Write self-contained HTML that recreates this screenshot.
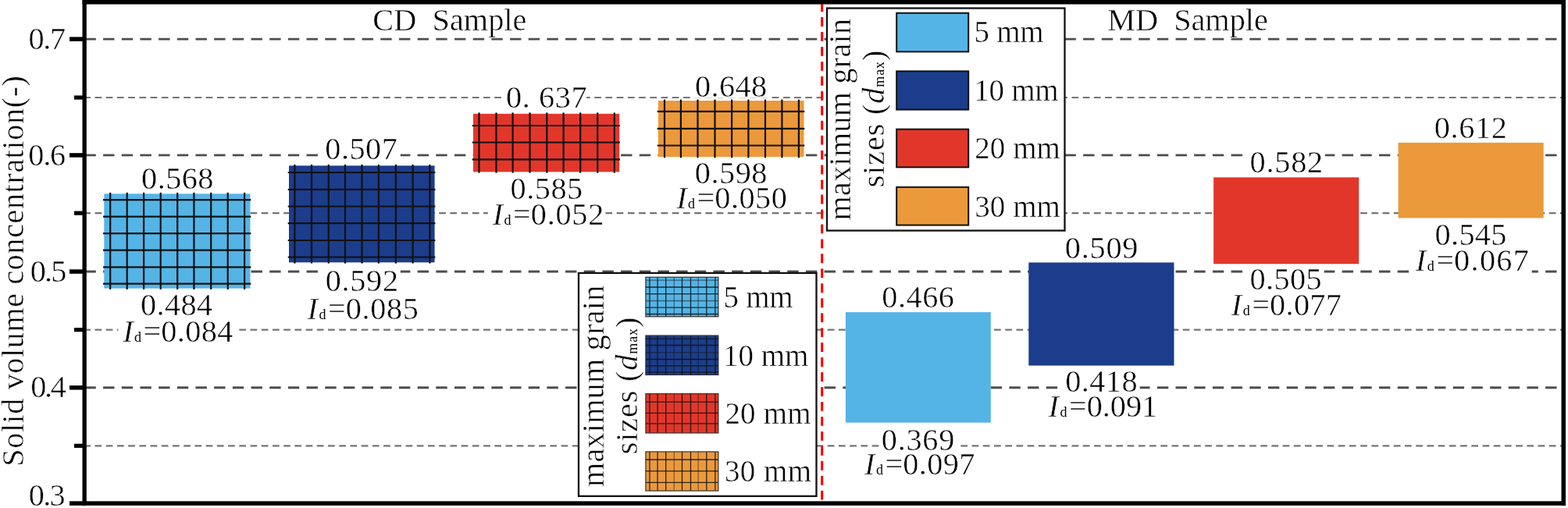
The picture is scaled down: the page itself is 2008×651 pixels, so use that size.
<!DOCTYPE html>
<html><head><meta charset="utf-8"><title>Solid volume concentration chart</title>
<style>
html,body{margin:0;padding:0;background:#fff;}
body{width:2008px;height:651px;overflow:hidden;}
svg{display:block;}
</style></head><body>
<svg width="2008" height="651" viewBox="0 0 2008 651">
<rect x="0" y="0" width="2008" height="651" fill="#fff"/>
<g fill="none">
<line x1="108.4" y1="50.1" x2="2000" y2="50.1" stroke="#4d4d4d" stroke-width="2.8" stroke-dasharray="14.4 9.28"/>
<line x1="108.4" y1="198.9" x2="2000" y2="198.9" stroke="#4d4d4d" stroke-width="2.8" stroke-dasharray="14.4 9.28"/>
<line x1="108.4" y1="348.0" x2="2000" y2="348.0" stroke="#4d4d4d" stroke-width="2.8" stroke-dasharray="14.4 9.28"/>
<line x1="108.4" y1="496.75" x2="2000" y2="496.75" stroke="#4d4d4d" stroke-width="2.8" stroke-dasharray="14.4 9.28"/>
<line x1="107.3" y1="125.0" x2="2000" y2="125.0" stroke="#747474" stroke-width="2.2" stroke-dasharray="8.7 5.516"/>
<line x1="107.3" y1="273.1" x2="2000" y2="273.1" stroke="#747474" stroke-width="2.2" stroke-dasharray="8.7 5.516"/>
<line x1="107.3" y1="422.6" x2="2000" y2="422.6" stroke="#747474" stroke-width="2.2" stroke-dasharray="8.7 5.516"/>
<line x1="107.3" y1="571.3" x2="2000" y2="571.3" stroke="#747474" stroke-width="2.2" stroke-dasharray="8.7 5.516"/>
</g>
<line x1="1052.7" y1="3.04" x2="1052.7" y2="642" stroke="#ff0000" stroke-width="3.1" stroke-dasharray="11.9 7.06"/>
<rect x="133.3" y="248.3" width="187.2" height="121.3" fill="#55b4e6"/>
<g stroke="#111" stroke-width="2.2">
<line x1="141.2" y1="246.8" x2="141.2" y2="370.9"/>
<line x1="162.7" y1="246.8" x2="162.7" y2="370.9"/>
<line x1="184.1" y1="246.8" x2="184.1" y2="370.9"/>
<line x1="205.7" y1="246.8" x2="205.7" y2="370.9"/>
<line x1="227.2" y1="246.8" x2="227.2" y2="370.9"/>
<line x1="248.4" y1="246.8" x2="248.4" y2="370.9"/>
<line x1="270.2" y1="246.8" x2="270.2" y2="370.9"/>
<line x1="291.7" y1="246.8" x2="291.7" y2="370.9"/>
<line x1="313.1" y1="246.8" x2="313.1" y2="370.9"/>
<line x1="132" y1="256.1" x2="321.3" y2="256.1"/>
<line x1="132" y1="277.7" x2="321.3" y2="277.7"/>
<line x1="132" y1="299.2" x2="321.3" y2="299.2"/>
<line x1="132" y1="320.7" x2="321.3" y2="320.7"/>
<line x1="132" y1="342.3" x2="321.3" y2="342.3"/>
<line x1="132" y1="363.7" x2="321.3" y2="363.7"/>
</g>
<rect x="370.0" y="212.3" width="186.6" height="124" fill="#1b3d8c"/>
<g stroke="#111" stroke-width="2.2">
<line x1="377.4" y1="210.8" x2="377.4" y2="337.6"/>
<line x1="399.0" y1="210.8" x2="399.0" y2="337.6"/>
<line x1="420.8" y1="210.8" x2="420.8" y2="337.6"/>
<line x1="442.0" y1="210.8" x2="442.0" y2="337.6"/>
<line x1="463.5" y1="210.8" x2="463.5" y2="337.6"/>
<line x1="484.9" y1="210.8" x2="484.9" y2="337.6"/>
<line x1="506.9" y1="210.8" x2="506.9" y2="337.6"/>
<line x1="528.6" y1="210.8" x2="528.6" y2="337.6"/>
<line x1="550.4" y1="210.8" x2="550.4" y2="337.6"/>
<line x1="368.7" y1="221.0" x2="557.4" y2="221.0"/>
<line x1="368.7" y1="242.9" x2="557.4" y2="242.9"/>
<line x1="368.7" y1="264.5" x2="557.4" y2="264.5"/>
<line x1="368.7" y1="286.2" x2="557.4" y2="286.2"/>
<line x1="368.7" y1="308.0" x2="557.4" y2="308.0"/>
<line x1="368.7" y1="329.5" x2="557.4" y2="329.5"/>
</g>
<rect x="606.0" y="145.8" width="187.2" height="74.5" fill="#e3362a"/>
<g stroke="#111" stroke-width="2.2">
<line x1="613.5" y1="144.3" x2="613.5" y2="221.6"/>
<line x1="635.5" y1="144.3" x2="635.5" y2="221.6"/>
<line x1="656.6" y1="144.3" x2="656.6" y2="221.6"/>
<line x1="678.5" y1="144.3" x2="678.5" y2="221.6"/>
<line x1="700.3" y1="144.3" x2="700.3" y2="221.6"/>
<line x1="721.6" y1="144.3" x2="721.6" y2="221.6"/>
<line x1="743.2" y1="144.3" x2="743.2" y2="221.6"/>
<line x1="765.2" y1="144.3" x2="765.2" y2="221.6"/>
<line x1="786.8" y1="144.3" x2="786.8" y2="221.6"/>
<line x1="604.7" y1="161.0" x2="794" y2="161.0"/>
<line x1="604.7" y1="182.5" x2="794" y2="182.5"/>
<line x1="604.7" y1="204.4" x2="794" y2="204.4"/>
</g>
<rect x="842.9" y="129.0" width="186.6" height="72" fill="#ec993c"/>
<g stroke="#111" stroke-width="2.2">
<line x1="851.0" y1="127.5" x2="851.0" y2="202.3"/>
<line x1="871.9" y1="127.5" x2="871.9" y2="202.3"/>
<line x1="893.5" y1="127.5" x2="893.5" y2="202.3"/>
<line x1="915.5" y1="127.5" x2="915.5" y2="202.3"/>
<line x1="937.1" y1="127.5" x2="937.1" y2="202.3"/>
<line x1="958.4" y1="127.5" x2="958.4" y2="202.3"/>
<line x1="980.0" y1="127.5" x2="980.0" y2="202.3"/>
<line x1="1001.4" y1="127.5" x2="1001.4" y2="202.3"/>
<line x1="1022.9" y1="127.5" x2="1022.9" y2="202.3"/>
<line x1="841.6" y1="142.9" x2="1030.3" y2="142.9"/>
<line x1="841.6" y1="164.8" x2="1030.3" y2="164.8"/>
<line x1="841.6" y1="186.5" x2="1030.3" y2="186.5"/>
</g>
<rect x="1082.9" y="400.1" width="185.9" height="141.5" fill="#55b4e6"/>
<rect x="1317.3" y="336.4" width="186.2" height="132.1" fill="#1b3d8c"/>
<rect x="1554.1" y="227.3" width="186.1" height="110.9" fill="#e3362a"/>
<rect x="1790.6" y="182.8" width="186.1" height="96.6" fill="#ec993c"/>
<g fill="#fff">
<rect x="177.3" y="212.9" width="99.1" height="31.3"/>
<rect x="176.2" y="374.4" width="100.1" height="31.8"/>
<rect x="413.3" y="175.8" width="99.5" height="31.2"/>
<rect x="413.7" y="344" width="99.1" height="31.3"/>
<rect x="644.3" y="108.4" width="106.6" height="31.5"/>
<rect x="650.7" y="225.5" width="98.5" height="31.4"/>
<rect x="886.7" y="94.6" width="99.4" height="31.1"/>
<rect x="886.7" y="206.2" width="99" height="31.5"/>
<rect x="1125.7" y="364.6" width="100" height="32"/>
<rect x="1125.8" y="547.7" width="99.8" height="31.2"/>
<rect x="1360.5" y="301" width="100" height="31.7"/>
<rect x="1360.9" y="472.8" width="98.8" height="31.3"/>
<rect x="1596.9" y="192.2" width="100" height="31.5"/>
<rect x="1597.1" y="342" width="98.6" height="31.6"/>
<rect x="1833.5" y="147.4" width="99.6" height="31.7"/>
<rect x="1834.1" y="284.6" width="98.7" height="31.4"/>
<rect x="151.5" y="408.5" width="150.4" height="32.1"/>
<rect x="387.9" y="379.6" width="150.1" height="32"/>
<rect x="624.9" y="258.8" width="149.8" height="32.1"/>
<rect x="860.9" y="238.1" width="150.3" height="32.4"/>
<rect x="1101.6" y="579.5" width="149.6" height="32"/>
<rect x="1336.8" y="504.8" width="147.3" height="32.4"/>
<rect x="1571.3" y="374.6" width="149.9" height="31.7"/>
<rect x="1807.3" y="316.3" width="154.4" height="33.7"/>
</g>
<rect x="741.0" y="349.9" width="304.5" height="285.9" fill="#fff" stroke="#111" stroke-width="2.3"/>
<rect x="826.9" y="355.20000000000005" width="93" height="50.6" fill="#55b4e6" stroke="#333" stroke-width="1.2"/>
<rect x="826.9" y="430.0" width="93" height="50.4" fill="#1b3d8c" stroke="#333" stroke-width="1.2"/>
<rect x="826.9" y="504.5" width="93" height="50.4" fill="#e3362a" stroke="#333" stroke-width="1.2"/>
<rect x="826.9" y="578.9" width="93" height="50.1" fill="#ec993c" stroke="#333" stroke-width="1.2"/>
<g stroke="#111" stroke-width="1.3">
<line x1="832.0" y1="355.6" x2="832.0" y2="405.4" stroke-opacity="0.85"/>
<line x1="842.1" y1="355.6" x2="842.1" y2="405.4" stroke-opacity="0.85"/>
<line x1="852.7" y1="355.6" x2="852.7" y2="405.4" stroke-opacity="0.85"/>
<line x1="863.3" y1="355.6" x2="863.3" y2="405.4" stroke-opacity="0.45"/>
<line x1="873.5" y1="355.6" x2="873.5" y2="405.4" stroke-opacity="0.85"/>
<line x1="884.5" y1="355.6" x2="884.5" y2="405.4" stroke-opacity="0.85"/>
<line x1="894.2" y1="355.6" x2="894.2" y2="405.4" stroke-opacity="0.45"/>
<line x1="904.8" y1="355.6" x2="904.8" y2="405.4" stroke-opacity="0.85"/>
<line x1="915.9" y1="355.6" x2="915.9" y2="405.4" stroke-opacity="0.85"/>
<line x1="827" y1="359.2" x2="919.8" y2="359.2" stroke-opacity="0.5"/>
<line x1="827" y1="368.0" x2="919.8" y2="368.0" stroke-opacity="0.85"/>
<line x1="827" y1="376.7" x2="919.8" y2="376.7" stroke-opacity="0.85"/>
<line x1="827" y1="385.5" x2="919.8" y2="385.5" stroke-opacity="0.5"/>
<line x1="827" y1="394.2" x2="919.8" y2="394.2" stroke-opacity="0.85"/>
<line x1="827" y1="402.5" x2="919.8" y2="402.5" stroke-opacity="0.85"/>
</g>
<g stroke="#111" stroke-width="1.3">
<line x1="832.0" y1="430.4" x2="832.0" y2="480.0" stroke-opacity="0.85"/>
<line x1="842.1" y1="430.4" x2="842.1" y2="480.0" stroke-opacity="0.85"/>
<line x1="852.7" y1="430.4" x2="852.7" y2="480.0" stroke-opacity="0.85"/>
<line x1="863.3" y1="430.4" x2="863.3" y2="480.0" stroke-opacity="0.45"/>
<line x1="873.5" y1="430.4" x2="873.5" y2="480.0" stroke-opacity="0.85"/>
<line x1="884.5" y1="430.4" x2="884.5" y2="480.0" stroke-opacity="0.85"/>
<line x1="894.2" y1="430.4" x2="894.2" y2="480.0" stroke-opacity="0.45"/>
<line x1="904.8" y1="430.4" x2="904.8" y2="480.0" stroke-opacity="0.85"/>
<line x1="915.9" y1="430.4" x2="915.9" y2="480.0" stroke-opacity="0.85"/>
<line x1="827" y1="434.2" x2="919.8" y2="434.2" stroke-opacity="0.85"/>
<line x1="827" y1="442.5" x2="919.8" y2="442.5" stroke-opacity="0.85"/>
<line x1="827" y1="451.7" x2="919.8" y2="451.7" stroke-opacity="0.5"/>
<line x1="827" y1="460.5" x2="919.8" y2="460.5" stroke-opacity="0.85"/>
<line x1="827" y1="468.8" x2="919.8" y2="468.8" stroke-opacity="0.85"/>
<line x1="827" y1="477.1" x2="919.8" y2="477.1" stroke-opacity="0.85"/>
</g>
<g stroke="#111" stroke-width="1.3">
<line x1="832.0" y1="504.9" x2="832.0" y2="554.5" stroke-opacity="0.85"/>
<line x1="842.1" y1="504.9" x2="842.1" y2="554.5" stroke-opacity="0.85"/>
<line x1="852.7" y1="504.9" x2="852.7" y2="554.5" stroke-opacity="0.85"/>
<line x1="863.3" y1="504.9" x2="863.3" y2="554.5" stroke-opacity="0.45"/>
<line x1="873.5" y1="504.9" x2="873.5" y2="554.5" stroke-opacity="0.85"/>
<line x1="884.5" y1="504.9" x2="884.5" y2="554.5" stroke-opacity="0.85"/>
<line x1="894.2" y1="504.9" x2="894.2" y2="554.5" stroke-opacity="0.45"/>
<line x1="904.8" y1="504.9" x2="904.8" y2="554.5" stroke-opacity="0.85"/>
<line x1="915.9" y1="504.9" x2="915.9" y2="554.5" stroke-opacity="0.85"/>
<line x1="827" y1="515.2" x2="919.8" y2="515.2" stroke-opacity="0.85"/>
<line x1="827" y1="529.3" x2="919.8" y2="529.3" stroke-opacity="0.85"/>
<line x1="827" y1="542.9" x2="919.8" y2="542.9" stroke-opacity="0.85"/>
</g>
<g stroke="#111" stroke-width="1.3">
<line x1="832.0" y1="579.3" x2="832.0" y2="628.6" stroke-opacity="0.85"/>
<line x1="842.1" y1="579.3" x2="842.1" y2="628.6" stroke-opacity="0.85"/>
<line x1="852.7" y1="579.3" x2="852.7" y2="628.6" stroke-opacity="0.85"/>
<line x1="863.3" y1="579.3" x2="863.3" y2="628.6" stroke-opacity="0.45"/>
<line x1="873.5" y1="579.3" x2="873.5" y2="628.6" stroke-opacity="0.85"/>
<line x1="884.5" y1="579.3" x2="884.5" y2="628.6" stroke-opacity="0.85"/>
<line x1="894.2" y1="579.3" x2="894.2" y2="628.6" stroke-opacity="0.45"/>
<line x1="904.8" y1="579.3" x2="904.8" y2="628.6" stroke-opacity="0.85"/>
<line x1="915.9" y1="579.3" x2="915.9" y2="628.6" stroke-opacity="0.85"/>
<line x1="827" y1="589.0" x2="919.8" y2="589.0" stroke-opacity="0.85"/>
<line x1="827" y1="603.6" x2="919.8" y2="603.6" stroke-opacity="0.85"/>
<line x1="827" y1="618.4" x2="919.8" y2="618.4" stroke-opacity="0.85"/>
</g>
<rect x="1059.0" y="10.5" width="304.5" height="285" fill="#fff" stroke="#111" stroke-width="2.3"/>
<rect x="1148.2" y="16.7" width="92" height="49.6" fill="#55b4e6" stroke="#111" stroke-width="2"/>
<rect x="1148.2" y="91.3" width="92" height="49.2" fill="#1b3d8c" stroke="#111" stroke-width="2"/>
<rect x="1148.2" y="165.6" width="92" height="48.7" fill="#e3362a" stroke="#111" stroke-width="2"/>
<rect x="1148.2" y="239.8" width="92" height="48.7" fill="#ec993c" stroke="#111" stroke-width="2"/>
<g font-family="'Liberation Serif', 'Times New Roman', serif" font-size="40.3" fill="#000" stroke="#fff" stroke-width="0.5">
<text x="227.45" y="242.4" text-anchor="middle" letter-spacing="0.4" xml:space="preserve">0.568</text>
<text x="226.25" y="403.9" text-anchor="middle" letter-spacing="0.4" xml:space="preserve">0.484</text>
<text x="462.85" y="204.3" text-anchor="middle" letter-spacing="0.5" xml:space="preserve">0.507</text>
<text x="463.75" y="373.1" text-anchor="middle" letter-spacing="0.65" xml:space="preserve">0.592</text>
<text x="700.1" y="137.7" text-anchor="middle" letter-spacing="0.6" xml:space="preserve">0. 637</text>
<text x="700.15" y="255" text-anchor="middle" letter-spacing="0.5" xml:space="preserve">0.585</text>
<text x="936.3" y="123.5" text-anchor="middle" letter-spacing="0.35" xml:space="preserve">0.648</text>
<text x="936.4" y="235.3" text-anchor="middle" letter-spacing="0.5" xml:space="preserve">0.598</text>
<text x="1175.9" y="394.1" text-anchor="middle" letter-spacing="0.5" xml:space="preserve">0.466</text>
<text x="1175.9" y="576.6" text-anchor="middle" letter-spacing="0.7" xml:space="preserve">0.369</text>
<text x="1411" y="330.7" text-anchor="middle" letter-spacing="0.75" xml:space="preserve">0.509</text>
<text x="1410.6" y="501.7" text-anchor="middle" letter-spacing="0.45" xml:space="preserve">0.418</text>
<text x="1647.8" y="221.3" text-anchor="middle" letter-spacing="0.75" xml:space="preserve">0.582</text>
<text x="1646.8" y="371.3" text-anchor="middle" letter-spacing="0.4" xml:space="preserve">0.505</text>
<text x="1883.6" y="176.5" text-anchor="middle" letter-spacing="0.65" xml:space="preserve">0.612</text>
<text x="1883.65" y="313.7" text-anchor="middle" letter-spacing="0.3" xml:space="preserve">0.545</text>
<text x="157.2" y="437.6"><tspan font-style="italic">I</tspan><tspan font-size="18" dx="1.5" stroke="none">d</tspan><tspan dx="2.5">=</tspan><tspan letter-spacing="0.35">0.084</tspan></text>
<text x="393.6" y="408.9"><tspan font-style="italic">I</tspan><tspan font-size="18" dx="1.5" stroke="none">d</tspan><tspan dx="2.5">=</tspan><tspan letter-spacing="0.65">0.085</tspan></text>
<text x="630.7" y="287.7"><tspan font-style="italic">I</tspan><tspan font-size="18" dx="1.5" stroke="none">d</tspan><tspan dx="2.5">=</tspan><tspan letter-spacing="0.7">0.052</tspan></text>
<text x="866.2" y="267"><tspan font-style="italic">I</tspan><tspan font-size="18" dx="1.5" stroke="none">d</tspan><tspan dx="2.5">=</tspan><tspan letter-spacing="0.45">0.050</tspan></text>
<text x="1107" y="608.2"><tspan font-style="italic">I</tspan><tspan font-size="18" dx="1.5" stroke="none">d</tspan><tspan dx="2.5">=</tspan><tspan letter-spacing="0.4">0.097</tspan></text>
<text x="1342.5" y="533.9"><tspan font-style="italic">I</tspan><tspan font-size="18" dx="1.5" stroke="none">d</tspan><tspan dx="2.5">=</tspan><tspan letter-spacing="-0.05">0.091</tspan></text>
<text x="1576.8" y="403.7"><tspan font-style="italic">I</tspan><tspan font-size="18" dx="1.5" stroke="none">d</tspan><tspan dx="2.5">=</tspan><tspan letter-spacing="0.35">0.077</tspan></text>
<text x="1812.8" y="346.6"><tspan font-style="italic">I</tspan><tspan font-size="18" dx="1.5" stroke="none">d</tspan><tspan dx="2.5">=</tspan><tspan letter-spacing="1.35">0.067</tspan></text>
<text x="82.7" y="62.9" text-anchor="end" letter-spacing="-1.4">0.7</text>
<text x="83" y="212.1" text-anchor="end" letter-spacing="-1.2">0.6</text>
<text x="83.4" y="361.4" text-anchor="end" letter-spacing="-1.9">0.5</text>
<text x="82.7" y="508.9" text-anchor="end" letter-spacing="-2.3">0.4</text>
<text x="82" y="647.7" text-anchor="end" letter-spacing="-1.7">0.3</text>
<text x="575.9" y="38.6" text-anchor="middle" letter-spacing="0.02" xml:space="preserve">CD  Sample</text>
<text x="1521" y="38.6" text-anchor="middle" letter-spacing="-0.05" xml:space="preserve">MD  Sample</text>
<text x="926.6" y="393.8" font-size="39" letter-spacing="-0.27">5 mm</text>
<text x="926" y="468.5" font-size="39" letter-spacing="0">10 mm</text>
<text x="928.4" y="543.3" font-size="39" letter-spacing="0.2">20 mm</text>
<text x="927.9" y="616.6" font-size="39" letter-spacing="0.45">30 mm</text>
<text x="1247.5" y="54.3" font-size="39" letter-spacing="-0.27">5 mm</text>
<text x="1247.3" y="129.1" font-size="39" letter-spacing="-0.3">10 mm</text>
<text x="1248.3" y="203.1" font-size="39" letter-spacing="0.05">20 mm</text>
<text x="1248.3" y="277.6" font-size="39" letter-spacing="0.05">30 mm</text>
<text transform="translate(30.1,347.1) rotate(-90)" text-anchor="middle" letter-spacing="0.54">Solid volume concentration(-)</text>
<text transform="translate(772.7,494.8) rotate(-90)" text-anchor="middle" letter-spacing="0.18">maximum grain</text>
<text transform="translate(816.1,494.1) rotate(-90)" text-anchor="middle" letter-spacing="0.84">sizes (<tspan font-style="italic">d</tspan><tspan font-size="18" stroke="none">max</tspan>)</text>
<text transform="translate(1088.5,153.1) rotate(-90)" text-anchor="middle" letter-spacing="0.18">maximum grain</text>
<text transform="translate(1132.3,152.1) rotate(-90)" text-anchor="middle" letter-spacing="0.84">sizes (<tspan font-style="italic">d</tspan><tspan font-size="18" stroke="none">max</tspan>)</text>
</g>
<g fill="#000">
<rect x="105.5" y="0" width="5.3" height="648"/>
<rect x="105.5" y="0" width="1899.5" height="5.5"/>
<rect x="1999.5" y="0" width="5.5" height="648"/>
<rect x="89" y="642.3" width="1916" height="5.5"/>
<rect x="89" y="47.35" width="20" height="5.5"/>
<rect x="89" y="196.15" width="20" height="5.5"/>
<rect x="89" y="345.25" width="20" height="5.5"/>
<rect x="89" y="494" width="20" height="5.5"/>
<rect x="95" y="122.4" width="14" height="5.2"/>
<rect x="95" y="270.5" width="14" height="5.2"/>
<rect x="95" y="420" width="14" height="5.2"/>
<rect x="95" y="568.7" width="14" height="5.2"/>
</g>
</svg>
</body></html>
